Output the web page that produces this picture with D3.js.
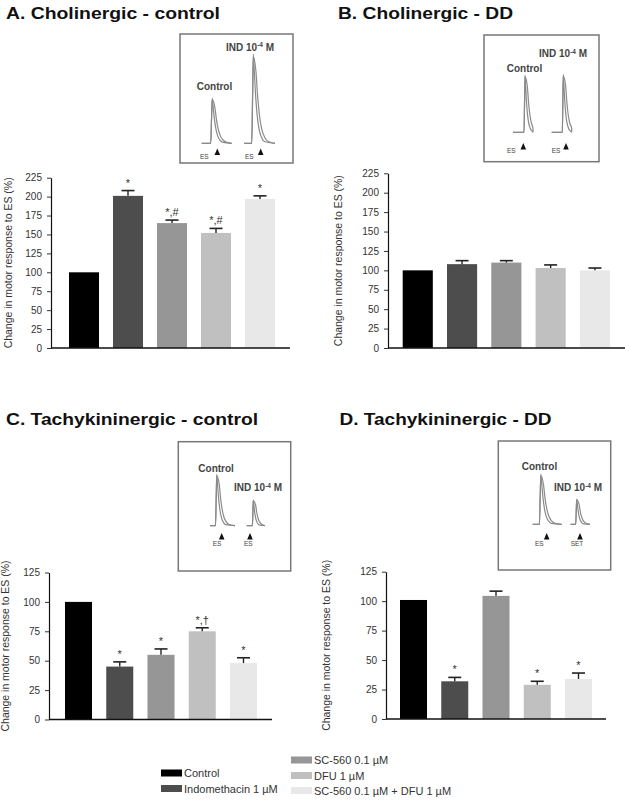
<!DOCTYPE html>
<html><head><meta charset="utf-8">
<script src="https://cdn.jsdelivr.net/npm/d3@7"></script>
<style>body{margin:0;background:#fff}svg{display:block}</style>
</head><body><svg id="c" width="629" height="800"></svg>
<script>
// ---------- data ----------
const categories = ["Control", "Indomethacin 1 µM", "SC-560 0.1 µM", "DFU 1 µM", "SC-560 0.1 µM + DFU 1 µM"];
const barColors = ["#000000", "#4d4d4d", "#969696", "#c0c0c0", "#e8e8e8"];

const cholControlMean = [100, 201, 165, 152, 197];
const cholControlErr  = [0, 7, 4, 6, 4];
const cholControlSig  = ["", "*", "*,#", "*,#", "*"];

const cholDDMean = [100, 108, 110, 103, 100];
const cholDDErr  = [0, 4.5, 2.5, 4, 3];
const cholDDSig  = ["", "", "", "", ""];

const tachControlMean = [100, 45, 55, 75, 48];
const tachControlErr  = [0, 4, 5, 3, 4.5];
const tachControlSig  = ["", "*", "*", "*,†", "*"];

const tachDDMean = [101, 32, 104.5, 29, 34];
const tachDDErr  = [0, 3.3, 4, 3, 5];
const tachDDSig  = ["", "*", "", "*", "*"];

const cholTicks = [0, 25, 50, 75, 100, 125, 150, 175, 200, 225];
const tachTicks = [0, 25, 50, 75, 100, 125];

const panelTitles = ["A. Cholinergic - control", "B. Cholinergic - DD", "C. Tachykininergic - control", "D. Tachykininergic - DD"];
const yAxisLabel = "Change in motor response to ES (%)";

// inset trace shape: [offset from peak (fraction of baseline width), relative amplitude]
const traceShape = [[-1, 0], [-0.05, 0], [-0.02, 0.6], [0, 1], [0.03, 0.82], [0.07, 0.56], [0.12, 0.33], [0.18, 0.17], [0.26, 0.07], [0.36, 0.02], [1, 0]];

// ---------- layout ----------
const FONT = "'Liberation Sans', Arial, Helvetica, sans-serif";
const svg = d3.select("#c");

const panels = [
  {title: panelTitles[0], tx: 6, ty: 19, tlen: 214, mean: cholControlMean, err: cholControlErr, sig: cholControlSig, ticks: cholTicks,
   axisX: 51, axisEnd: 290, y0: 348, yTop: 177.7, bars: [69, 275], pi: 0.318, labelX: 12},
  {title: panelTitles[1], tx: 338, ty: 19, tlen: 175, mean: cholDDMean, err: cholDDErr, sig: cholDDSig, ticks: cholTicks,
   axisX: 388, axisEnd: 625, y0: 348, yTop: 173.3, bars: [402.7, 610], pi: 0.32, labelX: 342},
  {title: panelTitles[2], tx: 6, ty: 424.5, tlen: 252, mean: tachControlMean, err: tachControlErr, sig: tachControlSig, ticks: tachTicks,
   axisX: 49, axisEnd: 272, y0: 719.5, yTop: 572.5, bars: [65, 257], pi: 0.345, labelX: 9},
  {title: panelTitles[3], tx: 339.5, ty: 424.5, tlen: 212, mean: tachDDMean, err: tachDDErr, sig: tachDDSig, ticks: tachTicks,
   axisX: 386, axisEnd: 606, y0: 719, yTop: 571.7, bars: [400, 592], pi: 0.345, labelX: 330}
];

panels.forEach(p => {
  const g = svg.append("g");
  const maxV = p.ticks[p.ticks.length - 1];
  const y = d3.scaleLinear().domain([0, maxV]).range([p.y0, p.yTop]);
  const x = d3.scaleBand().domain(categories).range(p.bars).paddingInner(p.pi).paddingOuter(0);

  // title
  g.append("text").attr("x", p.tx).attr("y", p.ty).text(p.title)
    .attr("font-family", FONT).attr("font-weight", "bold").attr("font-size", 16)
    .attr("fill", "#111").attr("textLength", p.tlen).attr("lengthAdjust", "spacingAndGlyphs");

  // bars
  g.selectAll("rect.bar").data(categories).join("rect").attr("class", "bar")
    .attr("x", d => x(d)).attr("width", x.bandwidth())
    .attr("y", (d, i) => y(p.mean[i])).attr("height", (d, i) => p.y0 - y(p.mean[i]))
    .attr("fill", (d, i) => barColors[i]);

  // error bars (upper whisker + cap)
  const capW = 13;
  categories.forEach((c, i) => {
    if (!p.err[i]) return;
    const cx = x(c) + x.bandwidth() / 2;
    g.append("line").attr("x1", cx).attr("x2", cx).attr("y1", y(p.mean[i])).attr("y2", y(p.mean[i] + p.err[i]))
      .attr("stroke", "#222").attr("stroke-width", 1.4);
    g.append("line").attr("x1", cx - capW / 2).attr("x2", cx + capW / 2)
      .attr("y1", y(p.mean[i] + p.err[i])).attr("y2", y(p.mean[i] + p.err[i]))
      .attr("stroke", "#222").attr("stroke-width", 1.6);
  });

  // significance labels
  categories.forEach((c, i) => {
    if (!p.sig[i]) return;
    const cx = x(c) + x.bandwidth() / 2;
    g.append("text").attr("x", cx).attr("y", y(p.mean[i] + p.err[i]) - 4)
      .attr("text-anchor", "middle").attr("font-family", FONT).attr("font-size", 11)
      .attr("fill", "#333").text(p.sig[i]);
  });

  // y axis
  const ax = g.append("g").attr("transform", `translate(${p.axisX},0)`)
    .call(d3.axisLeft(y).tickValues(p.ticks).tickSize(4).tickPadding(5).tickSizeOuter(0));
  ax.select(".domain").attr("stroke", "#111").attr("stroke-width", 1.2);
  ax.selectAll(".tick line").attr("stroke", "#333");
  ax.selectAll(".tick text").attr("font-family", FONT).attr("font-size", 10).attr("fill", "#333");

  // x axis line
  g.append("line").attr("x1", p.axisX).attr("x2", p.axisEnd).attr("y1", p.y0).attr("y2", p.y0)
    .attr("stroke", "#111").attr("stroke-width", 1.4);

  // y label
  const cy = (p.y0 + p.yTop) / 2;
  g.append("text").attr("transform", `translate(${p.labelX},${cy}) rotate(-90)`)
    .attr("text-anchor", "middle").attr("font-family", FONT).attr("font-size", 10)
    .attr("fill", "#333").attr("textLength", 171).attr("lengthAdjust", "spacingAndGlyphs")
    .text(yAxisLabel);
});

// ---------- insets ----------
const insets = [
  {box: [180, 34, 293, 163], ctrl: {t: "Control", x: 196.7, y: 90.3}, ind: {x: 226, y: 50.6},
   traces: [{b: [201.7, 231.7], by: 143.3, py: 98.3, pt: 0.35}, {b: [244, 275], by: 143.3, py: 54, pt: 0.3}],
   es: [{t: "ES", x: 200, y: 159}, {t: "ES", x: 245, y: 159}], arrows: [{x: 217.3, y: 148.5}, {x: 260.7, y: 148.5}]},
  {box: [484, 35, 599, 161.7], ctrl: {t: "Control", x: 506.7, y: 72}, ind: {x: 539, y: 57},
   traces: [{b: [513, 533], by: 132.3, py: 75, pt: 0.6}, {b: [551.7, 571.7], by: 132.3, py: 74.3, pt: 0.58}],
   es: [{t: "ES", x: 507, y: 153}, {t: "ES", x: 551.7, y: 153}], arrows: [{x: 523.3, y: 143}, {x: 566, y: 143}]},
  {box: [178.3, 441.7, 290.7, 571], ctrl: {t: "Control", x: 198.3, y: 472}, ind: {x: 234, y: 491.3},
   traces: [{b: [210, 235], by: 525.7, py: 474.3, pt: 0.27}, {b: [246.7, 265], by: 525.7, py: 500, pt: 0.36}],
   es: [{t: "ES", x: 212.7, y: 546}, {t: "ES", x: 244, y: 546}], arrows: [{x: 221.7, y: 533}, {x: 250, y: 533}]},
  {box: [498.3, 441, 610.7, 570], ctrl: {t: "Control", x: 521.7, y: 470.3}, ind: {x: 554, y: 491.3},
   traces: [{b: [532.7, 561.7], by: 524.3, py: 474.3, pt: 0.28}, {b: [570.7, 590], by: 524.3, py: 499, pt: 0.31}],
   es: [{t: "ES", x: 535, y: 546}, {t: "SET", x: 570.7, y: 546}], arrows: [{x: 546.7, y: 533}, {x: 580, y: 533}]}
];

insets.forEach(ins => {
  const g = svg.append("g");
  const [x0, y0, x1, y1] = ins.box;
  g.append("rect").attr("x", x0).attr("y", y0).attr("width", x1 - x0).attr("height", y1 - y0)
    .attr("fill", "#fff").attr("stroke", "#777").attr("stroke-width", 1.5);

  ins.traces.forEach(tr => {
    const W = tr.b[1] - tr.b[0];
    const px = tr.b[0] + tr.pt * W;
    const sx = d3.scaleLinear().domain([-1, 1]).range([px - W, px + W]);
    const sy = d3.scaleLinear().domain([0, 1]).range([tr.by, tr.py]);
    [0, 1.6].forEach((off, k) => {
      const pts = traceShape.map(([dx, v]) => [Math.min(tr.b[1], Math.max(tr.b[0] + k * 0.01, sx(dx) + (dx > 0 ? off * (1 + dx * 4) : 0))), sy(v * (k ? 0.97 : 1))]);
      g.append("path").attr("d", d3.line().curve(d3.curveMonotoneX)(pts))
        .attr("fill", "none").attr("stroke", "#8a8a8a").attr("stroke-width", 1.2);
    });
  });

  g.append("text").attr("x", ins.ctrl.x).attr("y", ins.ctrl.y).text(ins.ctrl.t)
    .attr("font-family", FONT).attr("font-weight", "bold").attr("font-size", 10).attr("fill", "#444");
  const it = g.append("text").attr("x", ins.ind.x).attr("y", ins.ind.y)
    .attr("font-family", FONT).attr("font-weight", "bold").attr("font-size", 10).attr("fill", "#444");
  it.append("tspan").text("IND 10");
  it.append("tspan").attr("dy", -3.5).attr("font-size", 6.5).text("-4");
  it.append("tspan").attr("dy", 3.5).text(" M");

  ins.es.forEach(e => g.append("text").attr("x", e.x).attr("y", e.y).text(e.t)
    .attr("font-family", FONT).attr("font-size", 6.5).attr("fill", "#444"));
  ins.arrows.forEach(a => g.append("path")
    .attr("d", `M${a.x},${a.y} L${a.x - 2.8},${a.y + 6.5} L${a.x + 2.8},${a.y + 6.5} Z`).attr("fill", "#111"));
});

// ---------- legend ----------
const legendPos = [
  {x: 161, y: 773}, {x: 161, y: 788.5},
  {x: 291, y: 760}, {x: 291, y: 775.5}, {x: 291, y: 790.5}
];
const lg = svg.append("g");
categories.forEach((c, i) => {
  const p = legendPos[i];
  lg.append("rect").attr("x", p.x).attr("y", p.y - 3.5).attr("width", 21).attr("height", 7).attr("fill", barColors[i]);
  lg.append("text").attr("x", p.x + 23).attr("y", p.y + 4).text(c)
    .attr("font-family", FONT).attr("font-size", 11).attr("fill", "#333");
});
</script></body></html>
